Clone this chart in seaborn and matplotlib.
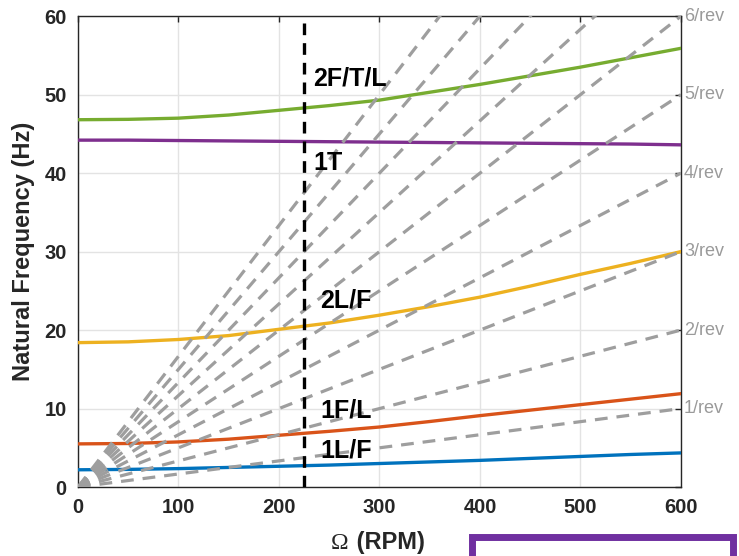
import numpy as np
import pandas as pd
import matplotlib
matplotlib.use("Agg")
import matplotlib.pyplot as plt
from matplotlib.patches import Rectangle
import seaborn as sns

# -----------------------------
# DATA
# -----------------------------
rpm = [0, 50, 100, 150, 200, 250, 300, 350, 400, 450, 500, 550, 600]

mode_1LF = [2.2, 2.25, 2.35, 2.5, 2.65, 2.8, 3.0, 3.2, 3.4, 3.65, 3.9, 4.15, 4.35]
mode_1FL = [5.5, 5.55, 5.75, 6.1, 6.6, 7.1, 7.65, 8.35, 9.1, 9.8, 10.5, 11.2, 11.9]
mode_2LF = [18.4, 18.5, 18.8, 19.3, 20.1, 20.9, 21.9, 23.0, 24.2, 25.6, 27.1, 28.5, 30.0]
mode_1T = [44.2, 44.2, 44.15, 44.1, 44.05, 44.0, 43.95, 43.9, 43.85, 43.8, 43.75, 43.7, 43.6]
mode_2FTL = [46.8, 46.85, 47.0, 47.4, 48.0, 48.6, 49.3, 50.3, 51.3, 52.4, 53.5, 54.7, 55.9]

mode_names = ["1L/F", "1F/L", "2L/F", "1T", "2F/T/L"]
mode_colors = ["#0072BD", "#D95319", "#EDB120", "#7E2F8E", "#77AC30"]

# per-rev excitation lines: from origin to (600 RPM, end_hz)
rev_orders = [1, 2, 3, 4, 5, 6, 7, 8, 9, 10]
rev_rpm = [0, 600]
rev_end_hz = [10, 20, 30, 40, 50, 60, 70, 80, 90, 100]
rev_labels = ["1/rev", "2/rev", "3/rev", "4/rev", "5/rev", "6/rev"]
rev_label_hz = [10, 20, 30, 40, 50, 60]

operating_rpm = 225

# label positions for each mode (x in RPM, y in Hz)
label_x = [241, 241, 241, 234, 234]
label_y = [4.7, 9.8, 23.8, 41.3, 52.1]

# -----------------------------
# BUILD TABLES
# -----------------------------
mode_df = pd.DataFrame({
    "rpm": rpm * 5,
    "hz": mode_1LF + mode_1FL + mode_2LF + mode_1T + mode_2FTL,
    "mode": [m for m in mode_names for _ in rpm],
})

rev_df = pd.DataFrame({
    "rpm": [r for _ in rev_orders for r in rev_rpm],
    "hz": [v for e in rev_end_hz for v in (0, e)],
    "order": [o for o in rev_orders for _ in rev_rpm],
})

# -----------------------------
# PLOT
# -----------------------------
sns.set_style("white")
plt.rcParams["font.family"] = ["Liberation Sans", "DejaVu Sans"]

fig = plt.figure(figsize=(7.39, 5.56), dpi=100)
ax = fig.add_axes([0.1055, 0.124, 0.816, 0.847])

sns.lineplot(data=mode_df, x="rpm", y="hz", hue="mode", hue_order=mode_names,
             palette=dict(zip(mode_names, mode_colors)), linewidth=2.4,
             legend=False, ax=ax, zorder=3)

sns.lineplot(data=rev_df, x="rpm", y="hz", units="order", estimator=None,
             color="#9E9E9E", linewidth=2.3, linestyle=(0, (4, 2.8)),
             legend=False, ax=ax, zorder=4)

ax.axvline(operating_rpm, color="black", linewidth=2.4,
           linestyle=(0, (3.5, 2.4)), zorder=5, ymax=0.985)

for name, x, y in zip(mode_names, label_x, label_y):
    ax.text(x, y, name, fontsize=18, fontweight="bold", color="black",
            va="center", ha="left", zorder=6)

for lab, y in zip(rev_labels, rev_label_hz):
    ax.text(603, y, lab, fontsize=13, color="#9A9A9A", va="center",
            ha="left", clip_on=False)

ax.set_xlim(0, 600)
ax.set_ylim(0, 60)
ax.set_xticks([0, 100, 200, 300, 400, 500, 600])
ax.set_yticks([0, 10, 20, 30, 40, 50, 60])
ax.grid(True, color="#E3E3E3", linewidth=1.0)
ax.set_axisbelow(True)

for side in ["top", "bottom", "left", "right"]:
    ax.spines[side].set_visible(True)
    ax.spines[side].set_color("#262626")
    ax.spines[side].set_linewidth(1.0)

ax.tick_params(direction="in", length=4, width=1, top=True, right=True,
               labelsize=14.5, colors="#262626", pad=8)
for lab in ax.get_xticklabels() + ax.get_yticklabels():
    lab.set_fontweight("bold")

ax.set_xlabel("")
ax.set_ylabel("Natural Frequency (Hz)", fontsize=17, fontweight="bold",
              color="#262626", labelpad=7)
fig.text(0.471, 0.004, "\u03a9", fontsize=17, family="Liberation Serif",
         ha="right", va="bottom", color="#262626")
fig.text(0.4735, 0.004, " (RPM)", fontsize=17, fontweight="bold",
         ha="left", va="bottom", color="#262626")

# purple frame cut off at the bottom right
fig.patches.append(Rectangle((0.6387, -0.1), 0.3532, 0.1342,
                             transform=fig.transFigure, fill=False,
                             edgecolor="#7030A0", linewidth=5.0))

fig.savefig("out.png", dpi=100)
